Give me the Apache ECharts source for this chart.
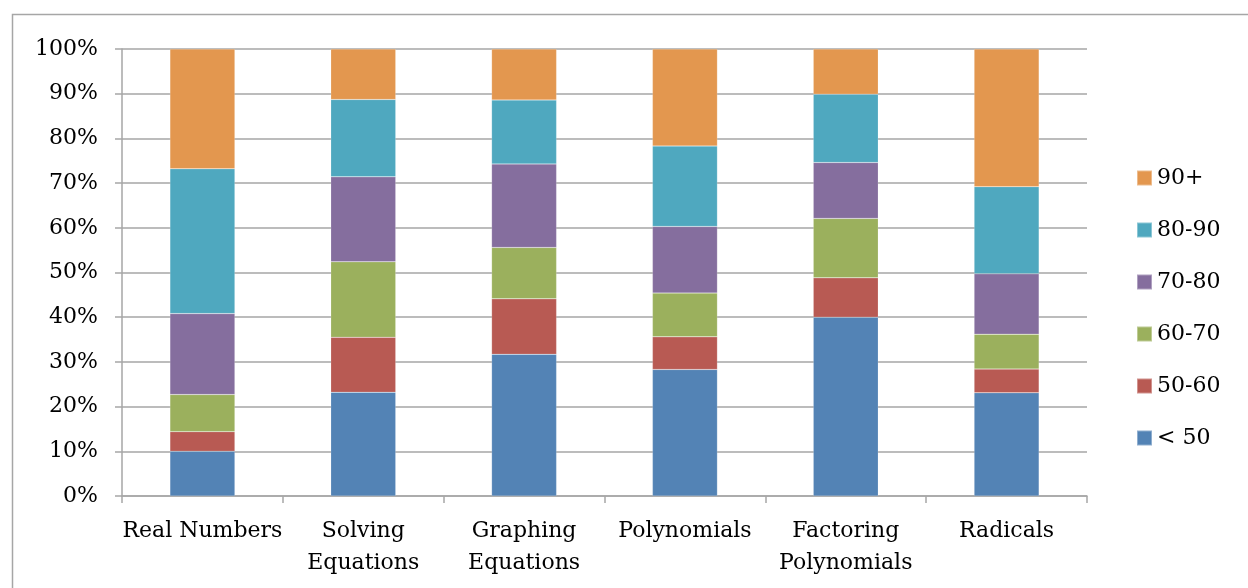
<!DOCTYPE html>
<html>
<head>
<meta charset="utf-8">
<title>Scores by topic</title>
<script src="https://cdn.jsdelivr.net/npm/echarts@6/dist/echarts.min.js"></script>
<style>
  html, body { margin: 0; padding: 0; background: #fff; }
  #chart { width: 1248px; height: 588px; }
</style>
</head>
<body>
<div id="chart"></div>
<script>
// topics along the x axis
var topics = ['Real Numbers', 'Solving\nEquations', 'Graphing\nEquations', 'Polynomials', 'Factoring\nPolynomials', 'Radicals'];

// percentage of students in each score band, per topic
var below50  = [10.0, 23.2, 31.7, 28.3, 40.0, 23.1];
var band5060 = [4.4, 12.3, 12.4, 7.3, 8.8, 5.3];
var band6070 = [8.3, 16.9, 11.5, 9.8, 13.3, 7.8];
var band7080 = [18.1, 19.0, 18.7, 14.9, 12.5, 13.5];
var band8090 = [32.4, 17.3, 14.3, 18.0, 15.3, 19.5];
var above90  = [26.8, 11.3, 11.4, 21.7, 10.1, 30.8];

var bandNames = ['< 50', '50-60', '60-70', '70-80', '80-90', '90+'];
var bandData = [below50, band5060, band6070, band7080, band8090, above90];
var bandColors = ['#5383B5', '#B85A53', '#9BB05D', '#856E9E', '#4FA8BF', '#E3974F'];

var font = 'DejaVu Serif';
var chart = echarts.init(document.getElementById('chart'));

var series = bandNames.map(function (name, i) {
    return {
        name: name,
        type: 'bar',
        stack: 'total',
        barWidth: 65,
        data: bandData[i],
        itemStyle: { color: bandColors[i], borderColor: 'rgba(255,255,255,0.35)', borderWidth: 0.5 },
        emphasis: { disabled: true }
    };
});

chart.setOption({
    animation: false,
    backgroundColor: '#fff',
    textStyle: { fontFamily: font },
    graphic: [{
        type: 'rect',
        shape: { x: 12.5, y: 14.5, width: 1260, height: 600 },
        style: { fill: 'none', stroke: '#A6A6A6', lineWidth: 1.5 },
        silent: true
    }],
    grid: { left: 122, right: 161, top: 49, bottom: 92 },
    legend: {
        orient: 'vertical',
        left: 1131,
        top: 162,
        itemWidth: 15,
        itemHeight: 15,
        itemGap: 30,
        icon: 'rect',
        data: bandNames.slice().reverse(),
        textStyle: { fontFamily: font, fontSize: 22, color: '#000' }
    },
    xAxis: {
        type: 'category',
        data: topics,
        axisLine: { lineStyle: { color: '#A6A6A6', width: 1.5 } },
        axisTick: { show: true, length: 7, lineStyle: { color: '#A6A6A6', width: 1.5 } },
        axisLabel: { fontFamily: font, fontSize: 22, color: '#000', margin: 19, lineHeight: 32, interval: 0 }
    },
    yAxis: {
        type: 'value',
        min: 0,
        max: 100,
        interval: 10,
        axisLine: { show: true, lineStyle: { color: '#A6A6A6', width: 1.5 } },
        axisTick: { show: true, length: 7, lineStyle: { color: '#A6A6A6', width: 1.5 } },
        splitLine: { lineStyle: { color: '#A6A6A6', width: 1.5 } },
        axisLabel: { fontFamily: font, fontSize: 22, color: '#000', margin: 24, formatter: '{value}%' }
    },
    series: series
});
</script>
</body>
</html>
